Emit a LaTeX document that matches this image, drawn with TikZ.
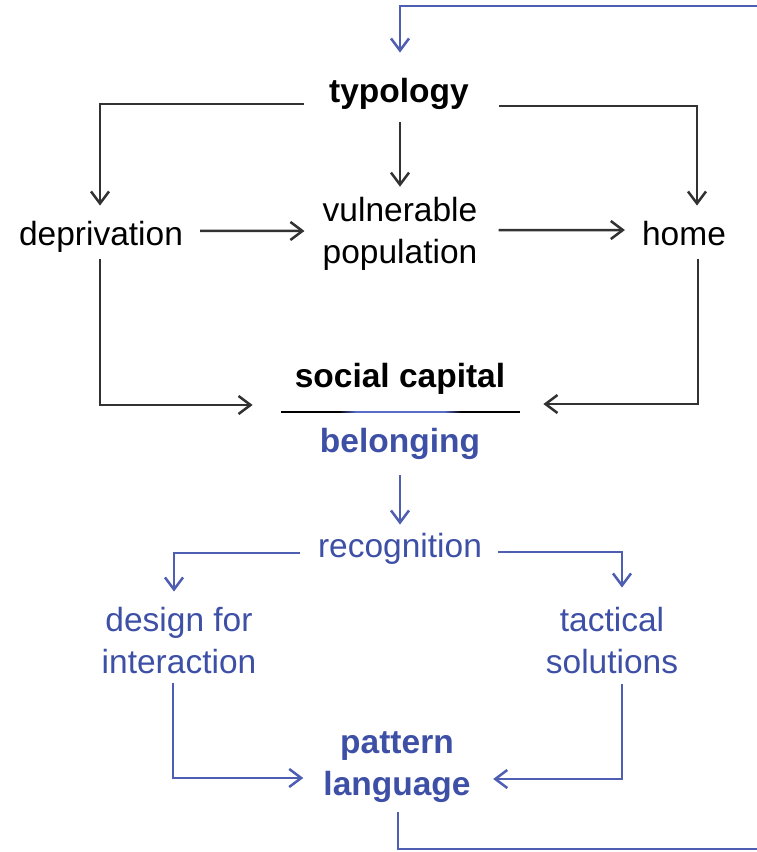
\documentclass[tikz,border=0pt]{standalone}
\usepackage{fontspec}
\setmainfont{Liberation Sans}
\usetikzlibrary{arrows.meta}
\definecolor{txtblue}{RGB}{62,80,166}
\definecolor{lnblue}{RGB}{78,94,178}
\definecolor{ruleblue}{RGB}{88,108,200}
\definecolor{lngray}{RGB}{50,50,50}
\tikzset{
  lbl/.style={inner sep=0pt, font=\fontsize{33.5}{42}\selectfont, align=center},
  boldlbl/.style={lbl, font=\fontsize{33.5}{42}\selectfont\bfseries},
  barr/.style={draw=lngray, line width=2.5pt, -{Straight Barb[length=12pt,width=18pt]}},
  blarr/.style={barr, draw=lnblue},
}
\begin{document}
\begin{tikzpicture}[x=1pt,y=-1pt]
\useasboundingbox (0,0) rectangle (757,852);
% nodes
\node[boldlbl, anchor=base] (typo) at (399,102) {typology};
\node[lbl, anchor=base] (dep) at (101,245) {deprivation};
\node[lbl] (vul) at (400,233.5) {vulnerable\\population};
\node[lbl, anchor=base] (home) at (684,245) {home};
\node[boldlbl, anchor=base] (soc) at (400,387) {social capital};
\node[boldlbl, text=txtblue, anchor=base] (bel) at (400,452) {belonging};
\node[lbl, text=txtblue, anchor=base] (rec) at (400,557) {recognition};
\node[lbl, text=txtblue] (des) at (179,641) {design for\\interaction};
\node[lbl, text=txtblue] (tac) at (612,641) {tactical\\solutions};
\node[boldlbl, text=txtblue] (pat) at (397,767) {pattern\\language};
% rule between social capital and belonging
\fill[black] (281,410.6) rectangle (339,413.4);
\foreach \i in {0,...,17}{
  \pgfmathsetmacro\p{\i*100/17}
  \fill[ruleblue!\p!black] (338.5+\i,410.6) rectangle (339.6+\i,413.4);
  \fill[ruleblue!\p!black] (461.5-\i,410.6) rectangle (460.4-\i,413.4);
}
\fill[ruleblue] (356,410.6) rectangle (444,413.4);
\fill[black] (461,410.6) rectangle (520,413.4);
% black connectors
\draw[barr] ([shift={(-25,2)}]typo.base west) -| ([shift={(-1,-15)}]dep.north);
\draw[barr] ([shift={(30,4)}]typo.base east) -| ([shift={(13,-15)}]home.north);
\draw[barr] ([shift={(1,13)}]typo.south) -- ([shift={(0,-10)}]vul.north);
\draw[barr] ([shift={(17,-5.5)}]dep.east) -- ([shift={(-18,-2.5)}]vul.west);
\draw[barr] ([shift={(21,-3.5)}]vul.east) -- ([shift={(-17,-3)}]home.west);
\draw[barr] ([shift={(-1,7)}]dep.south) |- ([shift={(-42,18)}]soc.base west);
\draw[barr] ([shift={(14,13)}]home.south) |- ([shift={(38,17)}]soc.base east);
% blue connectors
\draw[blarr] ([shift={(1,9)}]pat.south) |- (762,849) -- (762,6) -| ([shift={(1,-25)}]typo.north);
\draw[blarr] ([shift={(0,16)}]bel.south) -- ([shift={(0,-8)}]rec.north);
\draw[blarr] ([shift={(-18,-4)}]rec.base west) -| ([shift={(-5,-16)}]des.north);
\draw[blarr] ([shift={(16,-5)}]rec.base east) -| ([shift={(10,-20)}]tac.north);
\draw[blarr] ([shift={(-6,8)}]des.south) |- ([shift={(-20,11)}]pat.west);
\draw[blarr] ([shift={(10,9)}]tac.south) |- ([shift={(22.5,12)}]pat.east);
\end{tikzpicture}
\end{document}
